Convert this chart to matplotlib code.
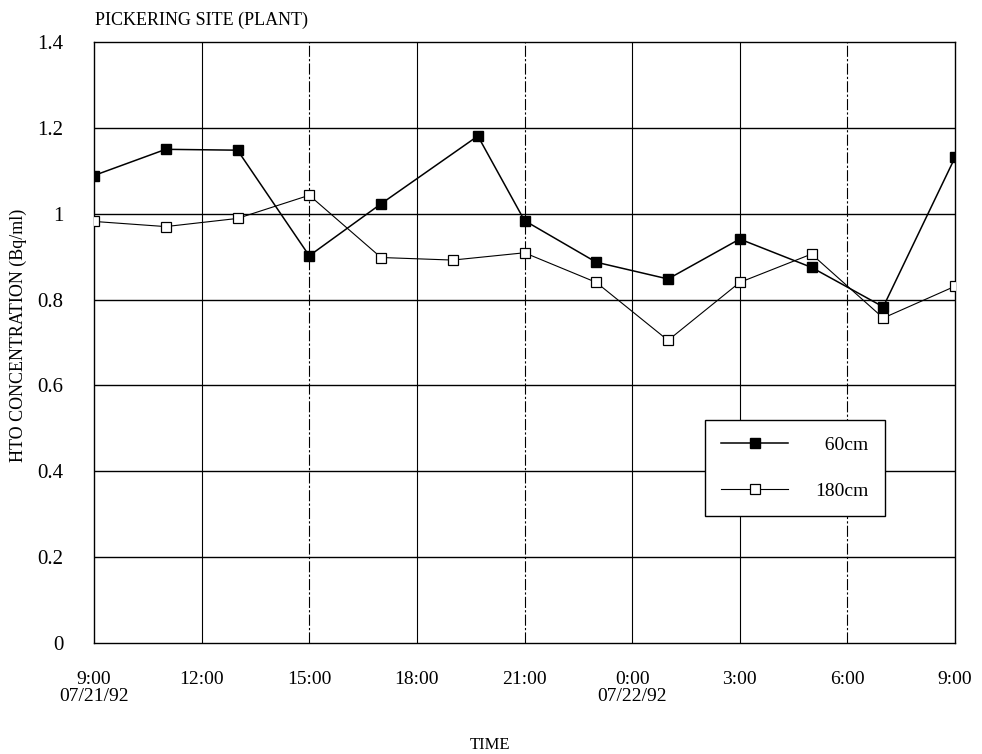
import matplotlib
matplotlib.use("Agg")
import matplotlib.pyplot as plt

# ---- data (hours after 9:00 07/21/92) ----
hours_60 = [0, 2, 4, 6, 8, 10.7, 12, 14, 16, 18, 20, 22, 24]
conc_60 = [1.089, 1.150, 1.148, 0.902, 1.023, 1.181, 0.984, 0.887, 0.848, 0.941, 0.875, 0.783, 1.131]
hours_180 = [0, 2, 4, 6, 8, 10, 12, 14, 16, 18, 20, 22, 24]
conc_180 = [0.982, 0.970, 0.989, 1.043, 0.898, 0.892, 0.909, 0.840, 0.705, 0.840, 0.906, 0.757, 0.831]

xtick_pos = [0, 3, 6, 9, 12, 15, 18, 21, 24]
xtick_labels = ["9:00\n07/21/92", "12:00", "15:00", "18:00", "21:00",
                "0:00\n07/22/92", "3:00", "6:00", "9:00"]
ytick_pos = [0, 0.2, 0.4, 0.6, 0.8, 1.0, 1.2, 1.4]
ytick_labels = ["0", "0.2", "0.4", "0.6", "0.8", "1", "1.2", "1.4"]

plt.rcParams['font.family'] = ['Liberation Serif', 'DejaVu Serif']

fig = plt.figure(figsize=(9.82, 7.54), dpi=100)
ax = fig.add_axes([94/982, 1-643/754, 861/982, 601/754])

ax.set_xlim(0, 24)
ax.set_ylim(0, 1.4)

# grid
for y in ytick_pos[1:-1]:
    ax.axhline(y, color='black', lw=1.0, zorder=1)
dashed = {6, 12, 21}
for x in xtick_pos[1:-1]:
    ax.axvline(x, color='black', lw=0.8, zorder=1,
               ls=(0, (10, 2, 2, 2)) if x in dashed else '-')

ax.plot(hours_60, conc_60, color='black', lw=1.1, marker='s', ms=6.5,
        mfc='black', mec='black', label='  60cm', zorder=3)
ax.plot(hours_180, conc_180, color='black', lw=0.8, marker='s', ms=6.5,
        mfc='white', mec='black', mew=0.9, label='180cm', zorder=3)

ax.set_xticks(xtick_pos)
ax.set_xticklabels(xtick_labels, fontsize=14, linespacing=1.0)
ax.set_yticks(ytick_pos)
ax.set_yticklabels(ytick_labels, fontsize=15)
ax.tick_params(axis='both', length=0)
ax.tick_params(axis='x', pad=20)
ax.tick_params(axis='y', pad=22)
for sp in ax.spines.values():
    sp.set_linewidth(1.0)
    sp.set_color('black')

ax.set_xlabel("TIME", fontsize=12)
ax.xaxis.set_label_coords((490-94)/861, (643-745)/601)
ax.xaxis.label.set_va('center')
ax.set_ylabel("HTO CONCENTRATION (Bq/ml)", fontsize=13)
ax.yaxis.set_label_coords((18-94)/861, (643-335)/601)
ax.yaxis.label.set_va('center')
fig.text(95/982, 1-20/754, "PICKERING SITE (PLANT)", fontsize=13,
         ha='left', va='center')

leg = ax.legend(loc='lower left', bbox_to_anchor=(0.7096, 0.211),
                fontsize=14, handlelength=3.4, handletextpad=1.4,
                labelspacing=1.45, borderpad=0.85, borderaxespad=0,
                fancybox=False, framealpha=1, edgecolor='black')
leg.get_frame().set_linewidth(1.0)
leg.set_zorder(5)

fig.savefig("out.png", dpi=100, facecolor='white')
